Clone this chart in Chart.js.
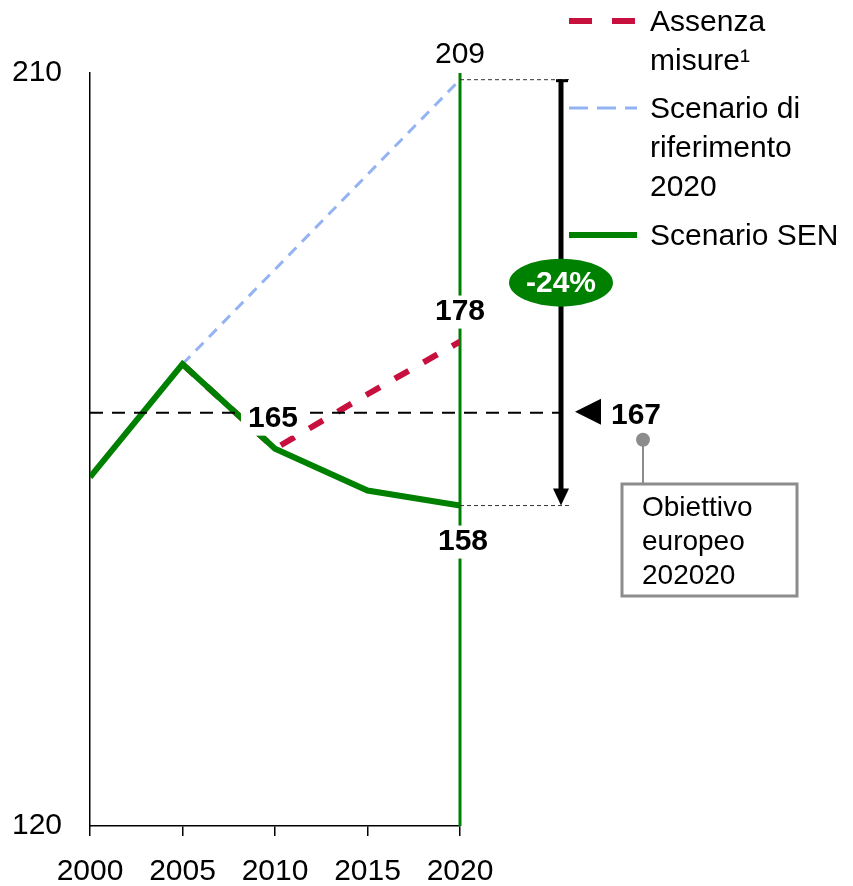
<!DOCTYPE html>
<html>
<head>
<meta charset="utf-8">
<script src="https://cdn.jsdelivr.net/npm/chart.js@4.4.1/dist/chart.umd.min.js"></script>
<style>
  html, body { margin: 0; padding: 0; background: #fff; }
</style>
</head>
<body>
<canvas id="emissioni" width="853" height="886"></canvas>
<script>
// --- data ---
const years = [2000, 2005, 2010, 2015, 2020];
const scenarioSen = [161.7, 175.2, 165.1, 160.1, 158.3];
const assenzaMisure = [null, 175.2, 165.1, 171.6, 177.9];
const riferimento2020 = [null, 175.2, null, null, 209.2];
const obiettivoPos = 169.4;      // where the 202020 target line sits
const obiettivoLabel = '167';
const yTicks = [120, 210];
const xTicks = [2000, 2005, 2010, 2015, 2020];

const FONT = "Arial, 'Liberation Sans', sans-serif";
const GREEN = '#008000';
const RED = '#c8103e';
const BLUE = '#94b3f3';
const GREY = '#8c8c8c';

const pts = arr => years.map((x, i) => ({ x: x, y: arr[i] }));
const last = arr => arr[arr.length - 1];

function boldLabel(ctx, text, x, y, bg) {
    ctx.font = 'bold 30px ' + FONT;
    ctx.textAlign = 'center';
    ctx.textBaseline = 'middle';
    if (bg) {
        const w = ctx.measureText(text).width + 14;
        ctx.fillStyle = '#fff';
        ctx.fillRect(x - w / 2, y - 16, w, 33);
    }
    ctx.fillStyle = '#000';
    ctx.fillText(text, x, y);
}

const annotations = {
    id: 'annotations',
    afterDraw(chart) {
        const ctx = chart.ctx;
        const xs = chart.scales.x, ys = chart.scales.y;
        const area = chart.chartArea;
        const arrowX = area.right + 101;
        const yTop = ys.getPixelForValue(last(riferimento2020));
        const yBot = ys.getPixelForValue(last(scenarioSen));
        const yTarget = ys.getPixelForValue(obiettivoPos);

        ctx.save();
        // target line
        ctx.strokeStyle = '#000';
        ctx.lineWidth = 2;
        ctx.setLineDash([13, 9]);
        ctx.beginPath();
        ctx.moveTo(area.left, yTarget);
        ctx.lineTo(arrowX, yTarget);
        ctx.stroke();

        // thin dotted guides
        ctx.strokeStyle = '#333';
        ctx.lineWidth = 1;
        ctx.setLineDash([4, 3]);
        ctx.beginPath();
        ctx.moveTo(area.right, yTop); ctx.lineTo(arrowX + 8, yTop);
        ctx.moveTo(area.right, yBot); ctx.lineTo(arrowX + 8, yBot);
        ctx.stroke();
        ctx.setLineDash([]);

        // arrow
        ctx.strokeStyle = '#000';
        ctx.lineWidth = 5;
        ctx.beginPath();
        ctx.moveTo(arrowX, yTop);
        ctx.lineTo(arrowX, yBot - 14);
        ctx.stroke();
        ctx.lineWidth = 3;
        ctx.beginPath();
        ctx.moveTo(arrowX - 5, yTop + 1);
        ctx.lineTo(arrowX + 7, yTop + 1);
        ctx.stroke();
        ctx.fillStyle = '#000';
        ctx.beginPath();
        ctx.moveTo(arrowX - 8, yBot - 17);
        ctx.lineTo(arrowX + 8, yBot - 17);
        ctx.lineTo(arrowX, yBot);
        ctx.closePath();
        ctx.fill();

        // percentage bubble
        const pct = Math.round((last(scenarioSen) - last(riferimento2020)) / last(riferimento2020) * 100);
        const yMid = (yTop + yBot) / 2 - 10;
        ctx.fillStyle = GREEN;
        ctx.beginPath();
        ctx.ellipse(arrowX, yMid, 52, 24, 0, 0, Math.PI * 2);
        ctx.fill();
        ctx.fillStyle = '#fff';
        ctx.font = 'bold 30px ' + FONT;
        ctx.textAlign = 'center';
        ctx.textBaseline = 'middle';
        ctx.fillText(pct + '%', arrowX, yMid + 1);

        // target marker + label
        ctx.fillStyle = '#000';
        ctx.beginPath();
        ctx.moveTo(arrowX + 14, yTarget - 1);
        ctx.lineTo(arrowX + 40, yTarget - 14);
        ctx.lineTo(arrowX + 40, yTarget + 12);
        ctx.closePath();
        ctx.fill();
        ctx.font = 'bold 30px ' + FONT;
        ctx.textAlign = 'left';
        ctx.fillText(obiettivoLabel, arrowX + 50, yTarget + 3);

        // callout
        const cx = arrowX + 82;
        ctx.strokeStyle = GREY;
        ctx.lineWidth = 2;
        ctx.beginPath();
        ctx.moveTo(cx, yTarget + 27);
        ctx.lineTo(cx, 484);
        ctx.stroke();
        ctx.fillStyle = GREY;
        ctx.beginPath();
        ctx.arc(cx, yTarget + 27, 7, 0, Math.PI * 2);
        ctx.fill();
        ctx.lineWidth = 3;
        ctx.fillStyle = '#fff';
        ctx.fillRect(622, 484, 175, 112);
        ctx.strokeRect(622, 484, 175, 112);
        ctx.fillStyle = '#000';
        ctx.font = '28px ' + FONT;
        ctx.textAlign = 'left';
        ['Obiettivo', 'europeo', '202020'].forEach((t, i) => ctx.fillText(t, 642, 508 + i * 34));

        // value labels
        ctx.font = '30px ' + FONT;
        ctx.textAlign = 'center';
        ctx.fillStyle = '#000';
        ctx.fillText(String(Math.round(last(riferimento2020))), xs.getPixelForValue(2020), yTop - 25);
        boldLabel(ctx, String(Math.round(last(assenzaMisure))), xs.getPixelForValue(2020), ys.getPixelForValue(last(assenzaMisure)) - 30, true);
        boldLabel(ctx, String(Math.round(scenarioSen[2])), xs.getPixelForValue(2010) - 2, ys.getPixelForValue(scenarioSen[2]) - 30, true);
        boldLabel(ctx, String(Math.round(last(scenarioSen))), xs.getPixelForValue(2020) + 3, yBot + 36, true);

        // legend
        const lx = 569, tx = 650;
        const rows = [
            { ds: chart.data.datasets[1], dash: [23, 20], y: 21, lines: ['Assenza', 'misure\u00B9'] },
            { ds: chart.data.datasets[2], dash: [19, 9], y: 108, lines: ['Scenario di', 'riferimento', '2020'] },
            { ds: chart.data.datasets[0], dash: [], y: 235, lines: ['Scenario SEN'] }
        ];
        rows.forEach(r => {
            ctx.strokeStyle = r.ds.borderColor;
            ctx.lineWidth = r.ds.borderWidth;
            ctx.setLineDash(r.dash);
            ctx.beginPath();
            ctx.moveTo(lx, r.y);
            ctx.lineTo(lx + 68, r.y);
            ctx.stroke();
            ctx.setLineDash([]);
            ctx.fillStyle = '#000';
            ctx.font = '30px ' + FONT;
            ctx.textAlign = 'left';
            ctx.textBaseline = 'middle';
            r.lines.forEach((t, i) => ctx.fillText(t, tx, r.y + 2 + i * 39));
        });
        ctx.restore();
    }
};

const ctx = document.getElementById('emissioni').getContext('2d');
new Chart(ctx, {
    type: 'line',
    data: {
        datasets: [
            { label: 'Scenario SEN', data: pts(scenarioSen), borderColor: GREEN, borderWidth: 6, order: 0 },
            { label: 'Assenza misure\u00B9', data: pts(assenzaMisure), borderColor: RED, borderWidth: 6, borderDash: [16, 17], spanGaps: true, order: 1 },
            { label: 'Scenario di riferimento 2020', data: pts(riferimento2020), borderColor: BLUE, borderWidth: 3, borderDash: [11, 8], spanGaps: true, order: 2 },
            { label: '2020', data: [{ x: 2020, y: yTicks[0] }, { x: 2020, y: last(yTicks) }], borderColor: GREEN, borderWidth: 3, clip: false, order: 3 }
        ]
    },
    options: {
        responsive: false,
        animation: false,
        devicePixelRatio: 1,
        layout: { padding: { left: 10, right: 393, top: 73, bottom: 0 } },
        elements: {
            point: { radius: 0 },
            line: { tension: 0, borderCapStyle: 'butt', borderJoinStyle: 'miter', fill: false }
        },
        plugins: { legend: { display: false }, tooltip: { enabled: false } },
        scales: {
            x: {
                type: 'linear', min: 2000, max: 2020,
                afterBuildTicks: s => { s.ticks = xTicks.map(v => ({ value: v })); },
                afterFit: s => { s.height = 60; },
                grid: { display: true, drawOnChartArea: false, drawTicks: true, tickLength: 10, color: '#000', lineWidth: 1.5 },
                border: { display: true, color: '#000', width: 1.5 },
                ticks: { font: { family: FONT, size: 30 }, color: '#000', padding: 18, maxRotation: 0, autoSkip: false, callback: v => String(v) }
            },
            y: {
                min: yTicks[0], max: last(yTicks),
                afterBuildTicks: s => { s.ticks = yTicks.map(v => ({ value: v })); },
                afterFit: s => { s.width = 80; },
                grid: { display: true, drawOnChartArea: false, drawTicks: false },
                border: { display: true, color: '#000', width: 1.5 },
                ticks: { font: { family: FONT, size: 30 }, color: '#000', padding: 28, callback: v => String(v) }
            }
        }
    },
    plugins: [annotations]
});
</script>
</body>
</html>
